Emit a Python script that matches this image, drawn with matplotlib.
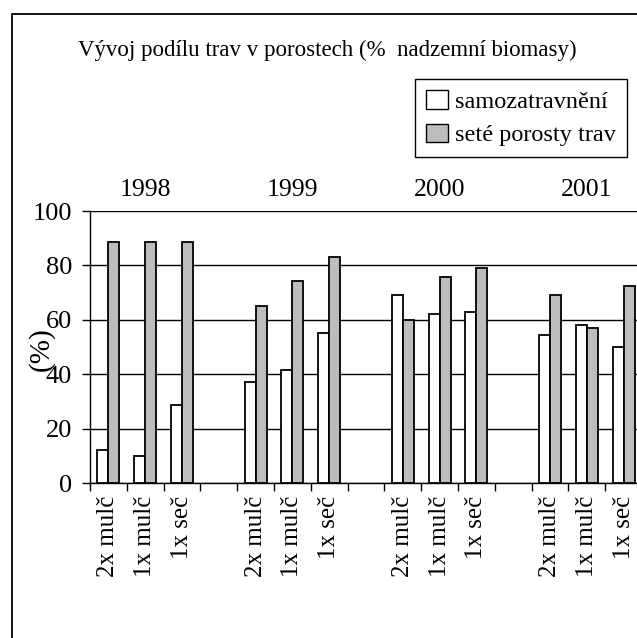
import numpy as np
import matplotlib
matplotlib.use("Agg")
import matplotlib.pyplot as plt
from matplotlib.patches import Rectangle, Patch

plt.rcParams['font.family'] = ['Liberation Serif', 'DejaVu Serif']

years = ["1998", "1999", "2000", "2001"]
treatments = ["2x mulč", "1x mulč", "1x seč"]
# values per year, order: 2x mulč, 1x mulč, 1x seč
samozatravneni = [12, 10, 28.6, 37, 41.5, 55, 69, 62, 63, 54.5, 58, 50]
sete_porosty = [88.6, 88.6, 88.6, 65, 74.4, 83, 60, 75.7, 79.2, 69, 57, 72.6]
labels = ["samozatravnění", "seté porosty trav"]
title = "Vývoj podílu trav v porostech (%  nadzemní biomasy)"

W, H = 637, 638
fig = plt.figure(figsize=(W / 100, H / 100), dpi=100)

# outer frame (right and bottom edges fall outside the picture)
fig.patches.append(Rectangle((12 / W, -0.05), 1.2, 1.05 - 14 / H, transform=fig.transFigure,
                             fill=False, edgecolor='black', linewidth=1.3))

slot = 36.8
ax = fig.add_axes([90 / W, 1 - 483 / H, 15 * slot / W, (483 - 211) / H])

# positions: 3 treatments per year, one empty slot between years
pos = []
for g in range(len(years)):
    for t in range(len(treatments)):
        pos.append(g * 4 + t)
pos = np.array(pos)

bw = 0.3
ax.bar(pos - bw / 2, samozatravneni, bw, color='white', edgecolor='black', linewidth=1.3, zorder=3)
ax.bar(pos + bw / 2, sete_porosty, bw, color='#bdbdbd', edgecolor='black', linewidth=1.3, zorder=3)

ax.set_xlim(-0.5, 14.5)
ax.set_ylim(0, 100)
ax.set_yticks(range(0, 101, 20))
ax.yaxis.grid(True, color='black', linewidth=1.0, zorder=0)
ax.set_axisbelow(True)

ax.set_xticks(np.arange(-0.5, 15, 1))
ax.set_xticklabels([])
ax.set_xticks(pos, minor=True)
ax.set_xticklabels(treatments * len(years), minor=True, rotation=90, fontsize=18)
ax.tick_params(axis='x', which='major', length=6, width=1, direction='out')
ax.tick_params(axis='x', which='minor', length=0, pad=9)
ax.tick_params(axis='y', length=6, width=1, direction='out', labelsize=19, pad=7)

for s in ['top', 'right']:
    ax.spines[s].set_visible(False)
ax.spines['left'].set_linewidth(1.0)
ax.spines['bottom'].set_linewidth(1.0)

for g, y in enumerate(years):
    ax.text(g * 4 + 1, 1.077, y, transform=ax.get_xaxis_transform(),
            ha='center', va='center', fontsize=18.5)

fig.text(41 / W, 1 - 349 / H, "(%)", rotation=90, ha='center', va='center', fontsize=21)
fig.text(327 / W, 1 - 50 / H, title, ha='center', va='center', fontsize=16.5)

handles = [Patch(facecolor='white', edgecolor='black', linewidth=1),
           Patch(facecolor='#bdbdbd', edgecolor='black', linewidth=1)]
leg = fig.legend(handles, labels, loc='upper right', bbox_to_anchor=(627 / W, 1 - 79 / H),
                 fontsize=17.5, fancybox=False, framealpha=1, edgecolor='black',
                 handlelength=0.9, handleheight=0.8, handletextpad=0.3, borderpad=0.45,
                 labelspacing=0.45, borderaxespad=0)
leg.get_frame().set_linewidth(1.0)

fig.savefig("out.png", dpi=100)
